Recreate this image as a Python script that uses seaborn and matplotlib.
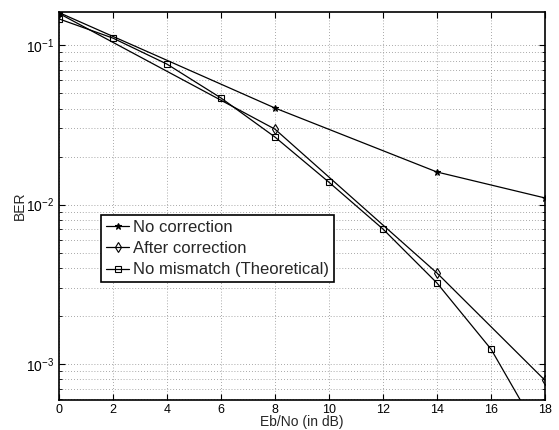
import matplotlib
matplotlib.use("Agg")
import matplotlib.pyplot as plt
import matplotlib.ticker as mticker
import seaborn as sns
import pandas as pd
import numpy as np

# Data
x_nocorr = [0, 8, 14, 18]
ber_nocorr = [0.160, 0.0403, 0.0160, 0.0110]

x_after = [0, 8, 14, 18]
ber_after = [0.158, 0.0297, 0.00372, 0.00079]

x_theory = [0, 2, 4, 6, 8, 10, 12, 14, 16, 18]
ber_theory = [0.146, 0.1106, 0.076, 0.0466, 0.0265, 0.0138, 0.00702, 0.00322, 0.00124, 0.00032]

labels = ["No correction", "After correction", "No mismatch (Theoretical)"]
x_ticks = [0, 2, 4, 6, 8, 10, 12, 14, 16, 18]

sns.set_theme(style="white")
plt.rcParams['font.family'] = ['Liberation Sans', 'DejaVu Sans']
plt.rcParams['mathtext.default'] = 'regular'

df = pd.concat([
    pd.DataFrame({"Eb": x_nocorr, "BER": ber_nocorr, "series": labels[0]}),
    pd.DataFrame({"Eb": x_after, "BER": ber_after, "series": labels[1]}),
    pd.DataFrame({"Eb": x_theory, "BER": ber_theory, "series": labels[2]}),
])

fig = plt.figure(figsize=(5.59, 4.30), dpi=100)
ax = fig.add_axes([0.1055, 0.0698, 0.8695, 0.903])

markers = ['*', 'd', 's']
msizes = [4.5, 5, 4.5]
for lab, m, ms in zip(labels, markers, msizes):
    sub = df[df["series"] == lab]
    sns.lineplot(data=sub, x="Eb", y="BER", ax=ax, color="black", linewidth=0.9,
                 marker=m, markersize=ms, markerfacecolor='none' if m != '*' else 'black',
                 markeredgecolor="black", markeredgewidth=0.8, label=lab,
                 estimator=None, sort=False)

ax.set_yscale("log")
ax.set_xlim(0, 18)
ax.set_ylim(5.95e-4, 0.162)
ax.set_xticks(x_ticks)
ax.set_xticklabels([str(t) for t in x_ticks])
ax.yaxis.set_major_locator(mticker.LogLocator(base=10, numticks=10))
ax.yaxis.set_minor_locator(mticker.LogLocator(base=10, subs=np.arange(2, 10), numticks=20))
ax.yaxis.set_minor_formatter(mticker.NullFormatter())

gridkw = dict(linestyle=(0, (1, 2.5)), color='#8c8c8c', linewidth=0.6)
ax.grid(True, which='major', axis='both', **gridkw)
ax.grid(True, which='minor', axis='y', **gridkw)

ax.tick_params(which='both', direction='in', top=True, right=True, bottom=True, left=True,
               colors='black')
ax.tick_params(axis='x', labelsize=9, pad=3)
ax.tick_params(axis='y', labelsize=10)
ax.tick_params(which='major', length=4, width=0.8)
ax.tick_params(which='minor', length=2.5, width=0.6)

for s in ax.spines.values():
    s.set_visible(True)
    s.set_color('black')
    s.set_linewidth(1.2)

ax.set_xlabel("Eb/No (in dB)", fontsize=10, labelpad=-1)
ax.set_ylabel("BER", fontsize=10, labelpad=-1)

leg = ax.legend(loc='upper left', bbox_to_anchor=(0.0864, 0.477), fontsize=12,
                frameon=True, fancybox=False, edgecolor='black', framealpha=1,
                handlelength=1.4, handletextpad=0.2, labelspacing=0.38,
                borderpad=0.3, borderaxespad=0)
leg.get_frame().set_linewidth(1.2)

fig.savefig("out.png", dpi=100)
